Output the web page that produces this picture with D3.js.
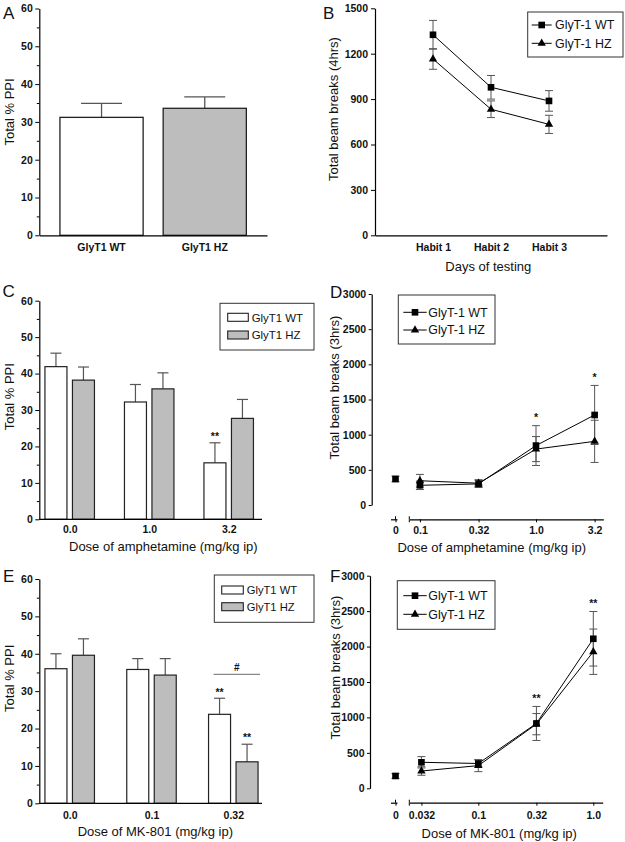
<!DOCTYPE html>
<html><head><meta charset="utf-8">
<script src="https://cdn.jsdelivr.net/npm/d3@7"></script>
<style>body{margin:0;background:#fff} svg{display:block}</style>
</head><body><svg id="c" width="625" height="842"></svg>
<script>
// ---------- DATA ----------
const ppiTicks = [0,10,20,30,40,50,60];
const ppiMinor = [5,15,25,35,45,55];
const beamTicks3 = [0,500,1000,1500,2000,2500,3000];
const barSeries = ["GlyT1 WT","GlyT1 HZ"];
const lineSeries = ["GlyT-1 WT","GlyT-1 HZ"];

// Panel A
const aGroups = ["GlyT1 WT","GlyT1 HZ"];
const aMean = [31.2, 33.6];
const aSem = [3.7, 3.0];

// Panel B
const bDays = ["Habit 1","Habit 2","Habit 3"];
const bTicks = [0,300,600,900,1200,1500];
const bWT = [1325, 978, 888];
const bWTsem = [95, 78, 68];
const bHZ = [1165, 833, 733];
const bHZsem = [68, 55, 60];

// Panel C
const cDoses = ["0.0","1.0","3.2"];
const cWT = [41.9, 32.2, 15.5];
const cWTsem = [3.7, 4.8, 5.5];
const cHZ = [38.2, 35.8, 27.7];
const cHZsem = [3.6, 4.4, 5.2];
const cSigWT = ["","","**"];

// Panel D
const dDoses = [0.1, 0.32, 1.0, 3.2];
const dTickLabels = ["0.1","0.32","1.0","3.2"];
const dCtrl = 370, dCtrlSem = 40;
const dWT = [280, 300, 845, 1280];
const dWTsem = [60, 50, 283, 420];
const dHZ = [345, 310, 795, 905];
const dHZsem = [90, 50, 178, 300];
const dSig = ["","","*","*"];

// Panel E
const eDoses = ["0.0","0.1","0.32"];
const eWT = [36.0, 35.8, 23.8];
const eWTsem = [4.0, 2.9, 4.3];
const eHZ = [39.6, 34.3, 11.1];
const eHZsem = [4.4, 4.4, 4.7];
const eSigWT = ["","","**"];
const eSigHZ = ["","","**"];
const eHashLevel = 34.5;

// Panel F
const fDoses = [0.032, 0.1, 0.32, 1.0];
const fTickLabels = ["0.032","0.1","0.32","1.0"];
const fCtrl = 174, fCtrlSem = 35;
const fWT = [367, 350, 915, 2110];
const fWTsem = [80, 50, 240, 385];
const fHZ = [244, 320, 905, 1927];
const fHZsem = [60, 85, 150, 320];
const fSig = ["","","**","**"];

// ---------- HELPERS ----------
const svg = d3.select("#c");
const FONT = '"Liberation Sans", Arial, Helvetica, sans-serif';
svg.append("rect").attr("width",625).attr("height",842).attr("fill","#fff");
const HZFILL = "#bdbdbd";
const ERR = "#555";
const intFmt = d3.format("d");

function styleAxis(g){
  g.selectAll(".domain").attr("stroke","#000").attr("stroke-width",1.2);
  g.selectAll(".tick line").attr("stroke","#000").attr("stroke-width",1);
  g.selectAll("text").attr("font-size",10.5).attr("font-weight","bold")
    .attr("fill","#111").attr("font-family",FONT);
}
function letter(x,y,t){
  svg.append("text").attr("x",x).attr("y",y).attr("font-size",17)
    .attr("font-family",FONT).attr("fill","#111").text(t);
}
function yTitle(x,cy,t){
  svg.append("text").attr("transform",`translate(${x},${cy}) rotate(-90)`)
    .attr("text-anchor","middle").attr("font-size",13).attr("font-family",FONT)
    .attr("fill","#111").text(t);
}
function xTitle(cx,y,t){
  svg.append("text").attr("x",cx).attr("y",y).attr("text-anchor","middle")
    .attr("font-size",13).attr("font-family",FONT).attr("fill","#111").text(t);
}
function ppiYAxis(x0,y){
  const g = svg.append("g").attr("transform",`translate(${x0},0)`)
    .call(d3.axisLeft(y).tickValues(ppiTicks).tickFormat(intFmt).tickSize(4).tickPadding(2.5).tickSizeOuter(0));
  styleAxis(g);
  const m = svg.append("g").attr("transform",`translate(${x0},0)`)
    .call(d3.axisLeft(y).tickValues(ppiMinor).tickSize(2.5).tickFormat(""));
  m.select(".domain").remove(); styleAxis(m);
}
function sigText(x,yc,t){
  svg.append("text").attr("x",x).attr("y",yc+5.5).attr("text-anchor","middle")
    .attr("font-size",10.5).attr("font-weight","bold").attr("font-family",FONT)
    .attr("fill","#111").text(t);
}
const symSquare = d3.symbol().type(d3.symbolSquare).size(44);
const symTri = d3.symbol().type(d3.symbolTriangle).size(30);

function barLegend(x0,y0,x1,y1,swX,swW,textX,rowYs,fs){
  svg.append("rect").attr("x",x0).attr("y",y0).attr("width",x1-x0).attr("height",y1-y0)
    .attr("fill","#fff").attr("stroke","#333").attr("stroke-width",1);
  barSeries.forEach((s,i)=>{
    svg.append("rect").attr("x",swX).attr("y",rowYs[i]-4).attr("width",swW).attr("height",8)
      .attr("fill", i===0?"#fff":HZFILL).attr("stroke","#222").attr("stroke-width",1.1);
    svg.append("text").attr("x",textX).attr("y",rowYs[i]+4.2).attr("font-size",fs)
      .attr("font-family",FONT).attr("fill","#111").text(s);
  });
}
function lineLegend(x0,y0,x1,y1,lx0,lx1,textX,rowYs){
  svg.append("rect").attr("x",x0).attr("y",y0).attr("width",x1-x0).attr("height",y1-y0)
    .attr("fill","#fff").attr("stroke","#333").attr("stroke-width",1);
  lineSeries.forEach((s,i)=>{
    svg.append("line").attr("x1",lx0).attr("x2",lx1).attr("y1",rowYs[i]).attr("y2",rowYs[i])
      .attr("stroke","#000").attr("stroke-width",1);
    svg.append("path").attr("d", i===0?symSquare():symTri())
      .attr("transform",`translate(${(lx0+lx1)/2},${rowYs[i]})`).attr("fill","#000");
    svg.append("text").attr("x",textX).attr("y",rowYs[i]+4.4).attr("font-size",12.4)
      .attr("font-family",FONT).attr("fill","#111").text(s);
  });
}

function groupedBars(groups, wt, wtSem, hz, hzSem, x, inner, y){
  const data = [];
  groups.forEach((g,i)=>{
    data.push({g, s:"WT", m:wt[i], e:wtSem[i]});
    data.push({g, s:"HZ", m:hz[i], e:hzSem[i]});
  });
  const bw = inner.bandwidth();
  const gx = d => x(d.g) + inner(d.s);
  const g = svg.append("g");
  g.selectAll("line.stem").data(data).join("line")
    .attr("x1",d=>gx(d)+bw/2).attr("x2",d=>gx(d)+bw/2)
    .attr("y1",d=>y(d.m)).attr("y2",d=>y(d.m+d.e)).attr("stroke",ERR).attr("stroke-width",1.2);
  g.selectAll("line.cap").data(data).join("line")
    .attr("x1",d=>gx(d)+bw/2-5.5).attr("x2",d=>gx(d)+bw/2+5.5)
    .attr("y1",d=>y(d.m+d.e)).attr("y2",d=>y(d.m+d.e)).attr("stroke",ERR).attr("stroke-width",1.2);
  g.selectAll("rect").data(data).join("rect")
    .attr("x",gx).attr("width",bw).attr("y",d=>y(d.m)).attr("height",d=>y(0)-y(d.m))
    .attr("fill",d=>d.s==="WT"?"#fff":HZFILL).attr("stroke","#222").attr("stroke-width",1.2);
}

function drawLines(y, seriesList, capW){
  seriesList.forEach(s=>{
    const g = svg.append("g");
    g.selectAll("line.v").data(s.pts).join("line")
      .attr("x1",d=>d.x).attr("x2",d=>d.x).attr("y1",d=>y(d.m-d.e)).attr("y2",d=>y(d.m+d.e))
      .attr("stroke",ERR).attr("stroke-width",1);
    g.selectAll("line.t").data(s.pts).join("line")
      .attr("x1",d=>d.x-capW/2).attr("x2",d=>d.x+capW/2).attr("y1",d=>y(d.m+d.e)).attr("y2",d=>y(d.m+d.e))
      .attr("stroke",ERR).attr("stroke-width",1);
    g.selectAll("line.b").data(s.pts).join("line")
      .attr("x1",d=>d.x-capW/2).attr("x2",d=>d.x+capW/2).attr("y1",d=>y(d.m-d.e)).attr("y2",d=>y(d.m-d.e))
      .attr("stroke",ERR).attr("stroke-width",1);
  });
  seriesList.forEach(s=>{
    if (s.pts.length>1)
      svg.append("path").datum(s.pts).attr("d",d3.line().x(d=>d.x).y(d=>y(d.m)))
        .attr("fill","none").attr("stroke","#000").attr("stroke-width",1);
  });
  seriesList.forEach(s=>{
    svg.append("g").selectAll("path").data(s.pts).join("path")
      .attr("d", s.sym==="sq"?symSquare():symTri())
      .attr("transform",d=>`translate(${d.x},${y(d.m)})`).attr("fill","#000");
  });
}

// ---------- PANEL A ----------
{
  const y = d3.scaleLinear().domain([0,60]).range([235.3, 8.5]);
  const x = d3.scaleBand().domain(aGroups).range([39.3, 267]).paddingInner(0.194).paddingOuter(0.2);
  const data = aGroups.map((g,i)=>({g, m:aMean[i], e:aSem[i], i}));
  const g = svg.append("g");
  g.selectAll("line.stem").data(data).join("line")
    .attr("x1",d=>x(d.g)+x.bandwidth()/2).attr("x2",d=>x(d.g)+x.bandwidth()/2)
    .attr("y1",d=>y(d.m)).attr("y2",d=>y(d.m+d.e)).attr("stroke",ERR).attr("stroke-width",1.3);
  g.selectAll("line.cap").data(data).join("line")
    .attr("x1",d=>x(d.g)+x.bandwidth()/2-20.5).attr("x2",d=>x(d.g)+x.bandwidth()/2+20.5)
    .attr("y1",d=>y(d.m+d.e)).attr("y2",d=>y(d.m+d.e)).attr("stroke",ERR).attr("stroke-width",1.3);
  g.selectAll("rect").data(data).join("rect")
    .attr("x",d=>x(d.g)).attr("width",x.bandwidth()).attr("y",d=>y(d.m)).attr("height",d=>y(0)-y(d.m))
    .attr("fill",d=>d.i===0?"#fff":HZFILL).attr("stroke","#222").attr("stroke-width",1.3);
  ppiYAxis(39.3, y);
  const xa = svg.append("g").attr("transform",`translate(0,${y(0)})`)
    .call(d3.axisBottom(x).tickSize(0).tickPadding(8).tickSizeOuter(0));
  styleAxis(xa);
  letter(3,18.5,"A");
  yTitle(14,112,"Total % PPI");
}

// ---------- PANEL B ----------
{
  const y = d3.scaleLinear().domain([0,1500]).range([235.3, 8.3]);
  const x = d3.scalePoint().domain(bDays).range([375, 607]).padding(1);
  const xs = bDays.map(d=>x(d));
  drawLines(y, [
    {pts: xs.map((xx,i)=>({x:xx, m:bWT[i], e:bWTsem[i]})), sym:"sq"},
    {pts: xs.map((xx,i)=>({x:xx, m:bHZ[i], e:bHZsem[i]})), sym:"tri"}
  ], 8);
  const ya = svg.append("g").attr("transform","translate(375,0)")
    .call(d3.axisLeft(y).tickValues(bTicks).tickFormat(intFmt).tickSize(4).tickPadding(3).tickSizeOuter(0));
  styleAxis(ya);
  const xa = svg.append("g").attr("transform",`translate(0,${y(0)})`)
    .call(d3.axisBottom(x).tickSize(0).tickPadding(8.6).tickSizeOuter(0));
  styleAxis(xa);
  lineLegend(527.7,12,623,57,531.7,551.7,555,[25,43.3]);
  letter(323,18.5,"B");
  yTitle(337.5,109,"Total beam breaks (4hrs)");
  xTitle(488.3,270.7,"Days of testing");
}

// ---------- PANEL C ----------
{
  const y = d3.scaleLinear().domain([0,60]).range([519.3, 300.7]);
  const x = d3.scalePoint().domain(cDoses).range([69.7, 228.7]);
  const inner = d3.scaleBand().domain(["WT","HZ"]).range([-24.75, 24.75]).paddingInner(0.2);
  groupedBars(cDoses, cWT, cWTsem, cHZ, cHZsem, x, inner, y);
  ppiYAxis(39.3, y);
  const xa = svg.append("g").attr("transform",`translate(0,${y(0)})`)
    .call(d3.axisBottom(x).tickSize(0).tickPadding(5.9));
  xa.select(".domain").remove();
  styleAxis(xa);
  svg.append("line").attr("x1",39.3).attr("x2",262).attr("y1",y(0)).attr("y2",y(0))
    .attr("stroke","#000").attr("stroke-width",1.2);
  cSigWT.forEach((s,i)=>{ if(s) sigText(x(cDoses[i])+inner("WT")+inner.bandwidth()/2, y(cWT[i]+cWTsem[i])-8, s); });
  barLegend(220,303.3,314,350,227.7,20.6,251.7,[317.3,335],11.4);
  letter(2.5,296.7,"C");
  yTitle(14,396.7,"Total % PPI");
  xTitle(163.3,551,"Dose of amphetamine (mg/kg ip)");
}

// ---------- log-dose line panels ----------
function dosePanel(o){
  const y = d3.scaleLinear().domain([0,3000]).range([o.y0, o.y3000]);
  const x = d3.scaleLog().domain(o.logDomain).range([409.3, o.xEnd]);
  const z = d3.scaleLinear().domain([-1,0.3]).range([390.5,397]);
  drawLines(y, [
    {pts:[{x:z(0), m:o.ctrl, e:o.ctrlSem}], sym:"sq"},
    {pts: o.doses.map((d,i)=>({x:x(d), m:o.wt[i], e:o.wtSem[i]})), sym:"sq"},
    {pts: o.doses.map((d,i)=>({x:x(d), m:o.hz[i], e:o.hzSem[i]})), sym:"tri"}
  ], 8);
  const ya = svg.append("g").attr("transform",`translate(${o.yAxisX},0)`)
    .call(d3.axisLeft(y).tickValues(beamTicks3).tickFormat(intFmt).tickSize(3).tickPadding(2.5).tickSizeOuter(0));
  styleAxis(ya);
  const xa = svg.append("g").attr("transform",`translate(0,${o.axisY})`)
    .call(d3.axisBottom(x).tickValues(o.doses).tickFormat((d,i)=>o.labels[i])
      .tickSize(3).tickPadding(o.pad).tickSizeOuter(0));
  styleAxis(xa);
  const za = svg.append("g").attr("transform",`translate(0,${o.axisY})`)
    .call(d3.axisBottom(z).tickValues([0]).tickFormat(()=>"0").tickSize(3).tickPadding(o.pad).tickSizeOuter(0));
  styleAxis(za);
  [z(0), x.range()[0]].forEach(px=>{
    svg.append("line").attr("x1",px).attr("x2",px).attr("y1",o.axisY-3).attr("y2",o.axisY)
      .attr("stroke","#000").attr("stroke-width",1);
  });
  svg.append("line").attr("x1",x.range()[0]).attr("x2",x.range()[0]).attr("y1",o.axisY).attr("y2",o.axisY+3)
    .attr("stroke","#000").attr("stroke-width",1);
  o.sig.forEach((s,i)=>{
    if(!s) return;
    const top = Math.max(o.wt[i]+o.wtSem[i], o.hz[i]+o.hzSem[i]);
    sigText(x(o.doses[i]), y(top)-10, s);
  });
}

dosePanel({y0:505, y3000:294, logDomain:[0.081,3.8], xEnd:603.3, yAxisX:371.7, axisY:519.3, pad:3.9,
  doses:dDoses, labels:dTickLabels, ctrl:dCtrl, ctrlSem:dCtrlSem, wt:dWT, wtSem:dWTsem, hz:dHZ, hzSem:dHZsem, sig:dSig});
lineLegend(398.3,295,495,344,403.3,426.7,428.3,[312.3,330]);
letter(330,298,"D");
yTitle(338.5,387.5,"Total beam breaks (3hrs)");
xTitle(491.7,552,"Dose of amphetamine (mg/kg ip)");

// ---------- PANEL E ----------
{
  const y = d3.scaleLinear().domain([0,60]).range([803.3, 579]);
  const x = d3.scalePoint().domain(eDoses).range([69.7, 233.3]);
  const inner = d3.scaleBand().domain(["WT","HZ"]).range([-24.75, 24.75]).paddingInner(0.2);
  groupedBars(eDoses, eWT, eWTsem, eHZ, eHZsem, x, inner, y);
  ppiYAxis(39.3, y);
  const xa = svg.append("g").attr("transform",`translate(0,${y(0)})`)
    .call(d3.axisBottom(x).tickSize(0).tickPadding(8.4));
  xa.select(".domain").remove();
  styleAxis(xa);
  svg.append("line").attr("x1",39.3).attr("x2",262).attr("y1",y(0)).attr("y2",y(0))
    .attr("stroke","#000").attr("stroke-width",1.2);
  const bw = inner.bandwidth();
  eSigWT.forEach((s,i)=>{ if(s) sigText(x(eDoses[i])+inner("WT")+bw/2, y(eWT[i]+eWTsem[i])-8, s); });
  eSigHZ.forEach((s,i)=>{ if(s) sigText(x(eDoses[i])+inner("HZ")+bw/2, y(eHZ[i]+eHZsem[i])-9, s); });
  const last = eDoses[eDoses.length-1];
  const hx1 = x(last)+inner("WT")+5, hx2 = x(last)+inner("HZ")+bw+2;
  svg.append("line").attr("x1",hx1).attr("x2",hx2).attr("y1",y(eHashLevel)).attr("y2",y(eHashLevel))
    .attr("stroke","#888").attr("stroke-width",1.3);
  svg.append("text").attr("x",(hx1+hx2)/2).attr("y",y(eHashLevel)-3.5).attr("text-anchor","middle")
    .attr("font-size",10).attr("font-weight","bold").attr("font-family",FONT).attr("fill","#111").text("#");
  barLegend(214.3,575,314,622.3,221.7,21.6,246.7,[590,606.7],11.2);
  letter(3,581.7,"E");
  yTitle(14,678.3,"Total % PPI");
  xTitle(155.3,836,"Dose of MK-801 (mg/kg ip)");
}

// ---------- PANEL F ----------
dosePanel({y0:788.3, y3000:575.7, logDomain:[0.0251,1.207], xEnd:602.7, yAxisX:370, axisY:802.7, pad:6.3,
  doses:fDoses, labels:fTickLabels, ctrl:fCtrl, ctrlSem:fCtrlSem, wt:fWT, wtSem:fWTsem, hz:fHZ, hzSem:fHZsem, sig:fSig});
lineLegend(397.3,580.7,495,629.3,403.3,426.7,428.3,[595.7,614.3]);
letter(330,581.7,"F");
yTitle(339.5,667.5,"Total beam breaks (3hrs)");
xTitle(499.2,837.5,"Dose of MK-801 (mg/kg ip)");
</script>
</body></html>
